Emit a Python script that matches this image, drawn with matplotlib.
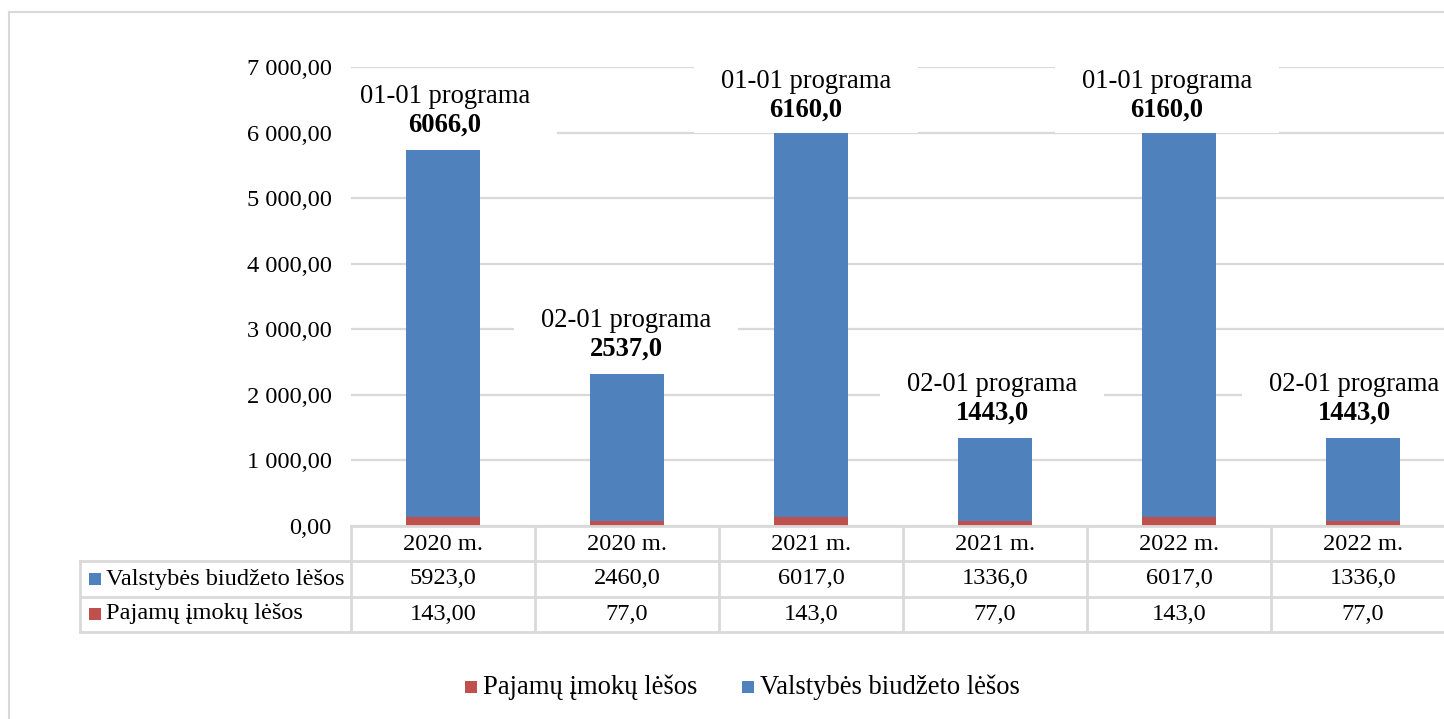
import matplotlib
matplotlib.use("Agg")
import matplotlib.pyplot as plt
from matplotlib.patches import Rectangle
from matplotlib.lines import Line2D

# ---------------- data ----------------
categories = ["2020 m.", "2020 m.", "2021 m.", "2021 m.", "2022 m.", "2022 m."]
programs = ["01-01 programa", "02-01 programa", "01-01 programa",
            "02-01 programa", "01-01 programa", "02-01 programa"]
total_labels = ["6066,0", "2537,0", "6160,0", "1443,0", "6160,0", "1443,0"]
# bar heights as drawn in the picture
income_funds = [143, 77, 143, 77, 143, 77]            # Pajamų įmokų lėšos
state_funds = [5591, 2241, 6017, 1265, 6017, 1265]    # Valstybės biudžeto lėšos
# data-table texts
table_state = ["5923,0", "2460,0", "6017,0", "1336,0", "6017,0", "1336,0"]
table_income = ["143,00", "77,0", "143,0", "77,0", "143,0", "77,0"]
series_names = ["Valstybės biudžeto lėšos", "Pajamų įmokų lėšos"]
y_ticks = [0, 1000, 2000, 3000, 4000, 5000, 6000, 7000]

BLUE = "#4F81BD"
RED = "#C0504D"
GRID = "#D9D9D9"
FONT = ["Liberation Serif", "DejaVu Serif"]

plt.rcParams["font.family"] = FONT

W, H = 1444, 719
fig = plt.figure(figsize=(W / 100, H / 100), dpi=100)


def fx(x):
    return x / W


def fy(y):
    return 1 - y / H


ax = fig.add_axes([fx(351), fy(526), (1455 - 351) / W, (526 - 67) / H])

x = list(range(len(categories)))
ax.bar(x, income_funds, width=0.4, color=RED, zorder=2)
ax.bar(x, state_funds, width=0.4, bottom=income_funds, color=BLUE, zorder=2)

ax.set_xlim(-0.5, len(categories) - 0.5)
ax.set_ylim(0, 7000)
ax.set_yticks(y_ticks)
ax.set_yticklabels([f"{v:,.2f}".replace(",", " ").replace(".", ",") for v in y_ticks],
                   fontsize=17.6, family=FONT)
ax.set_xticks([])
ax.tick_params(axis="y", length=0, pad=14)
ax.yaxis.grid(True, color=GRID, lw=1.6)
ax.set_axisbelow(True)
for s in ax.spines.values():
    s.set_visible(False)

fig.canvas.draw()

# ---------------- outer chart border ----------------
fig.add_artist(Line2D([fx(9), fx(1444)], [fy(12), fy(12)], color=GRID, lw=1.5))
fig.add_artist(Line2D([fx(9), fx(9)], [fy(12), fy(719)], color=GRID, lw=1.5))

# ---------------- data table ----------------
col_edges = [ax.transData.transform((i - 0.5, 0))[0] for i in range(len(categories) + 1)]
col_centers = [ax.transData.transform((i, 0))[0] for i in x]
row_lines = [526, 561, 597, 632]
tl = dict(color=GRID, lw=2)
fig.add_artist(Line2D([fx(col_edges[0]), fx(col_edges[-1])], [fy(526), fy(526)], **tl))
for yy in row_lines[1:]:
    fig.add_artist(Line2D([fx(80), fx(col_edges[-1])], [fy(yy), fy(yy)], **tl))
for ex in col_edges:
    fig.add_artist(Line2D([fx(ex), fx(ex)], [fy(526), fy(632)], **tl))
fig.add_artist(Line2D([fx(80), fx(80)], [fy(561), fy(632)], **tl))

TFS = 17.6
row_y = [544, 579, 614]
for cx, c, s, inc in zip(col_centers, categories, table_state, table_income):
    fig.text(fx(cx), fy(row_y[0]), c, ha="center", va="center", fontsize=TFS, family=FONT)
    fig.text(fx(cx), fy(row_y[1]), s, ha="center", va="center", fontsize=TFS, family=FONT)
    fig.text(fx(cx), fy(row_y[2]), inc, ha="center", va="center", fontsize=TFS, family=FONT)

for ry, name, col in [(row_y[1], series_names[0], BLUE), (row_y[2], series_names[1], RED)]:
    fig.add_artist(Rectangle((fx(89), fy(ry + 6)), 12 / W, 12 / H,
                             transform=fig.transFigure, facecolor=col, edgecolor="none"))
    fig.text(fx(106), fy(ry), name, ha="left", va="center", fontsize=TFS, family=FONT)

# ---------------- data labels ----------------
label_dx = [2, -1, -5, -3, -12, -9]      # px shift of label centre
label_gap = [25, 25, 12, 25, 12, 25]     # px between bar top and value line
for i in x:
    total = income_funds[i] + state_funds[i]
    if i in (2, 4):
        total = 6160
    dx_, dy_ = ax.transData.transform((i, total))
    top_y = H - dy_
    cx = dx_ + label_dx[i]
    l2 = top_y - label_gap[i]
    l1 = l2 - 29
    fig.add_artist(Rectangle((fx(cx - 112), fy(l2 + 23)), 224 / W, (l2 + 23 - (l1 - 20)) / H,
                             transform=fig.transFigure, facecolor="white",
                             edgecolor="none", zorder=2))
    fig.text(fx(cx), fy(l1), programs[i], ha="center", va="center",
             fontsize=19.2, family=FONT, zorder=3)
    fig.text(fx(cx), fy(l2), total_labels[i], ha="center", va="center",
             fontsize=19.2, fontweight="bold", family=FONT, zorder=3)

# ---------------- legend ----------------
leg_y = 687
for sx, tx, col, name in [(465, 483, RED, series_names[1]), (742, 760, BLUE, series_names[0])]:
    fig.add_artist(Rectangle((fx(sx), fy(leg_y + 6)), 12 / W, 12 / H,
                             transform=fig.transFigure, facecolor=col, edgecolor="none"))
    fig.text(fx(tx), fy(leg_y), name, ha="left", va="center", fontsize=19.2, family=FONT)

fig.savefig("out.png", dpi=100)
